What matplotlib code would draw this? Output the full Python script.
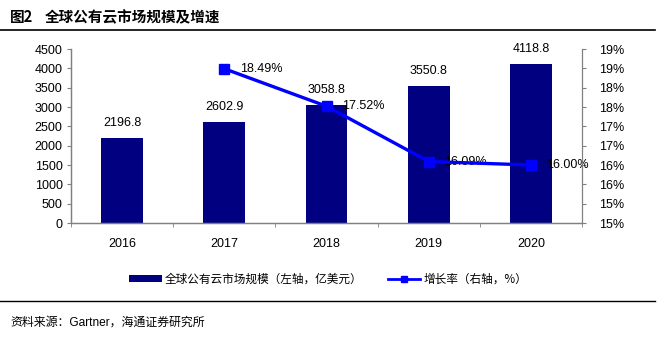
import math
import numpy as np
import matplotlib
matplotlib.use("Agg")
import matplotlib.pyplot as plt
from matplotlib.ticker import FuncFormatter, MultipleLocator
from matplotlib.lines import Line2D
from matplotlib.patches import Patch

# data
years = ["2016", "2017", "2018", "2019", "2020"]
market_size = [2196.8, 2602.9, 3058.8, 3550.8, 4118.8]   # 亿美元
growth_rate = [np.nan, 0.1849, 0.1752, 0.1609, 0.1600]
growth_labels = ["", "18.49%", "17.52%", "16.09%", "16.00%"]

cjk = ["Noto Sans CJK SC", "DejaVu Sans"]
latin_cjk = ["Liberation Sans", "Noto Sans CJK SC", "DejaVu Sans"]
plt.rcParams["font.family"] = latin_cjk

fig = plt.figure(figsize=(6.6, 3.38), dpi=100)
ax = fig.add_axes([71 / 660, 1 - 223 / 338, 511 / 660, 174 / 338])
ax2 = ax.twinx()

x = np.arange(len(years))
ax.bar(x, market_size, width=0.41, color="#000080", zorder=2)
for xi, v in zip(x, market_size):
    ax.text(xi, v + 230, f"{v:.1f}", ha="center", va="bottom", fontsize=9)

ax.set_xlim(-0.5, len(years) - 0.5)
ax.set_ylim(0, 4500)
ax.yaxis.set_major_locator(MultipleLocator(500))
ax.set_xticks(x)
ax.set_xticklabels(years)
ax.set_xticks(np.arange(-0.5, len(years)), minor=True)
ax.tick_params(axis="x", which="major", length=0, pad=11, labelsize=9)
ax.tick_params(axis="x", which="minor", length=3, color="#808080")
ax.tick_params(axis="y", length=3, color="#808080", labelsize=9, pad=3)

ax2.plot(x, growth_rate, color="#0000FF", lw=2.4, marker="s", ms=7,
         mfc="#0000FF", mec="#0000FF", zorder=3)
for xi, v, lab in zip(x, growth_rate, growth_labels):
    if lab:
        ax2.text(xi + 0.15, v, lab, ha="left", va="center", fontsize=9, zorder=2)
ax2.set_ylim(0.145, 0.19)
ax2.yaxis.set_major_locator(MultipleLocator(0.005))
ax2.yaxis.set_major_formatter(FuncFormatter(lambda v, p: f"{math.floor(v * 100 + 0.5 + 1e-9)}%"))
ax2.tick_params(axis="y", length=3, color="#808080", labelsize=9, pad=9)

for a in (ax, ax2):
    a.spines["top"].set_visible(False)
    for s in ("left", "right", "bottom"):
        a.spines[s].set_color("#808080")
        a.spines[s].set_linewidth(0.9)
ax.spines["right"].set_visible(False)

# legend
handles = [Patch(facecolor="#000080", edgecolor="none"),
           Line2D([], [], color="#0000FF", lw=2, marker="s", ms=5)]
labels = ["全球公有云市场规模（左轴，亿美元）", "增长率（右轴，%）"]
leg = fig.legend(handles, labels, loc="center", bbox_to_anchor=(0.497, 1 - 279 / 338),
                 ncol=2, frameon=False, prop={"family": cjk, "size": 8.4},
                 handlelength=2.8, handleheight=0.55, handletextpad=0.25,
                 columnspacing=2.2)

# title, rules and source
fig.text(10 / 660, 1 - 17 / 338, "图2", fontsize=10.5, fontweight="bold",
         family=cjk, va="center", ha="left")
fig.text(45 / 660, 1 - 17 / 338, "全球公有云市场规模及增速", fontsize=10.5,
         fontweight="bold", family=cjk, va="center", ha="left")
fig.add_artist(Line2D([0, 655 / 660], [1 - 30 / 338] * 2, color="black", lw=1.2))
fig.add_artist(Line2D([0, 655 / 660], [1 - 301 / 338] * 2, color="black", lw=1.0))
fig.text(10 / 660, 1 - 323 / 338, "资料来源：Gartner，海通证券研究所", fontsize=8.6,
         family=latin_cjk, va="center", ha="left")

fig.savefig("out.png", dpi=100)
